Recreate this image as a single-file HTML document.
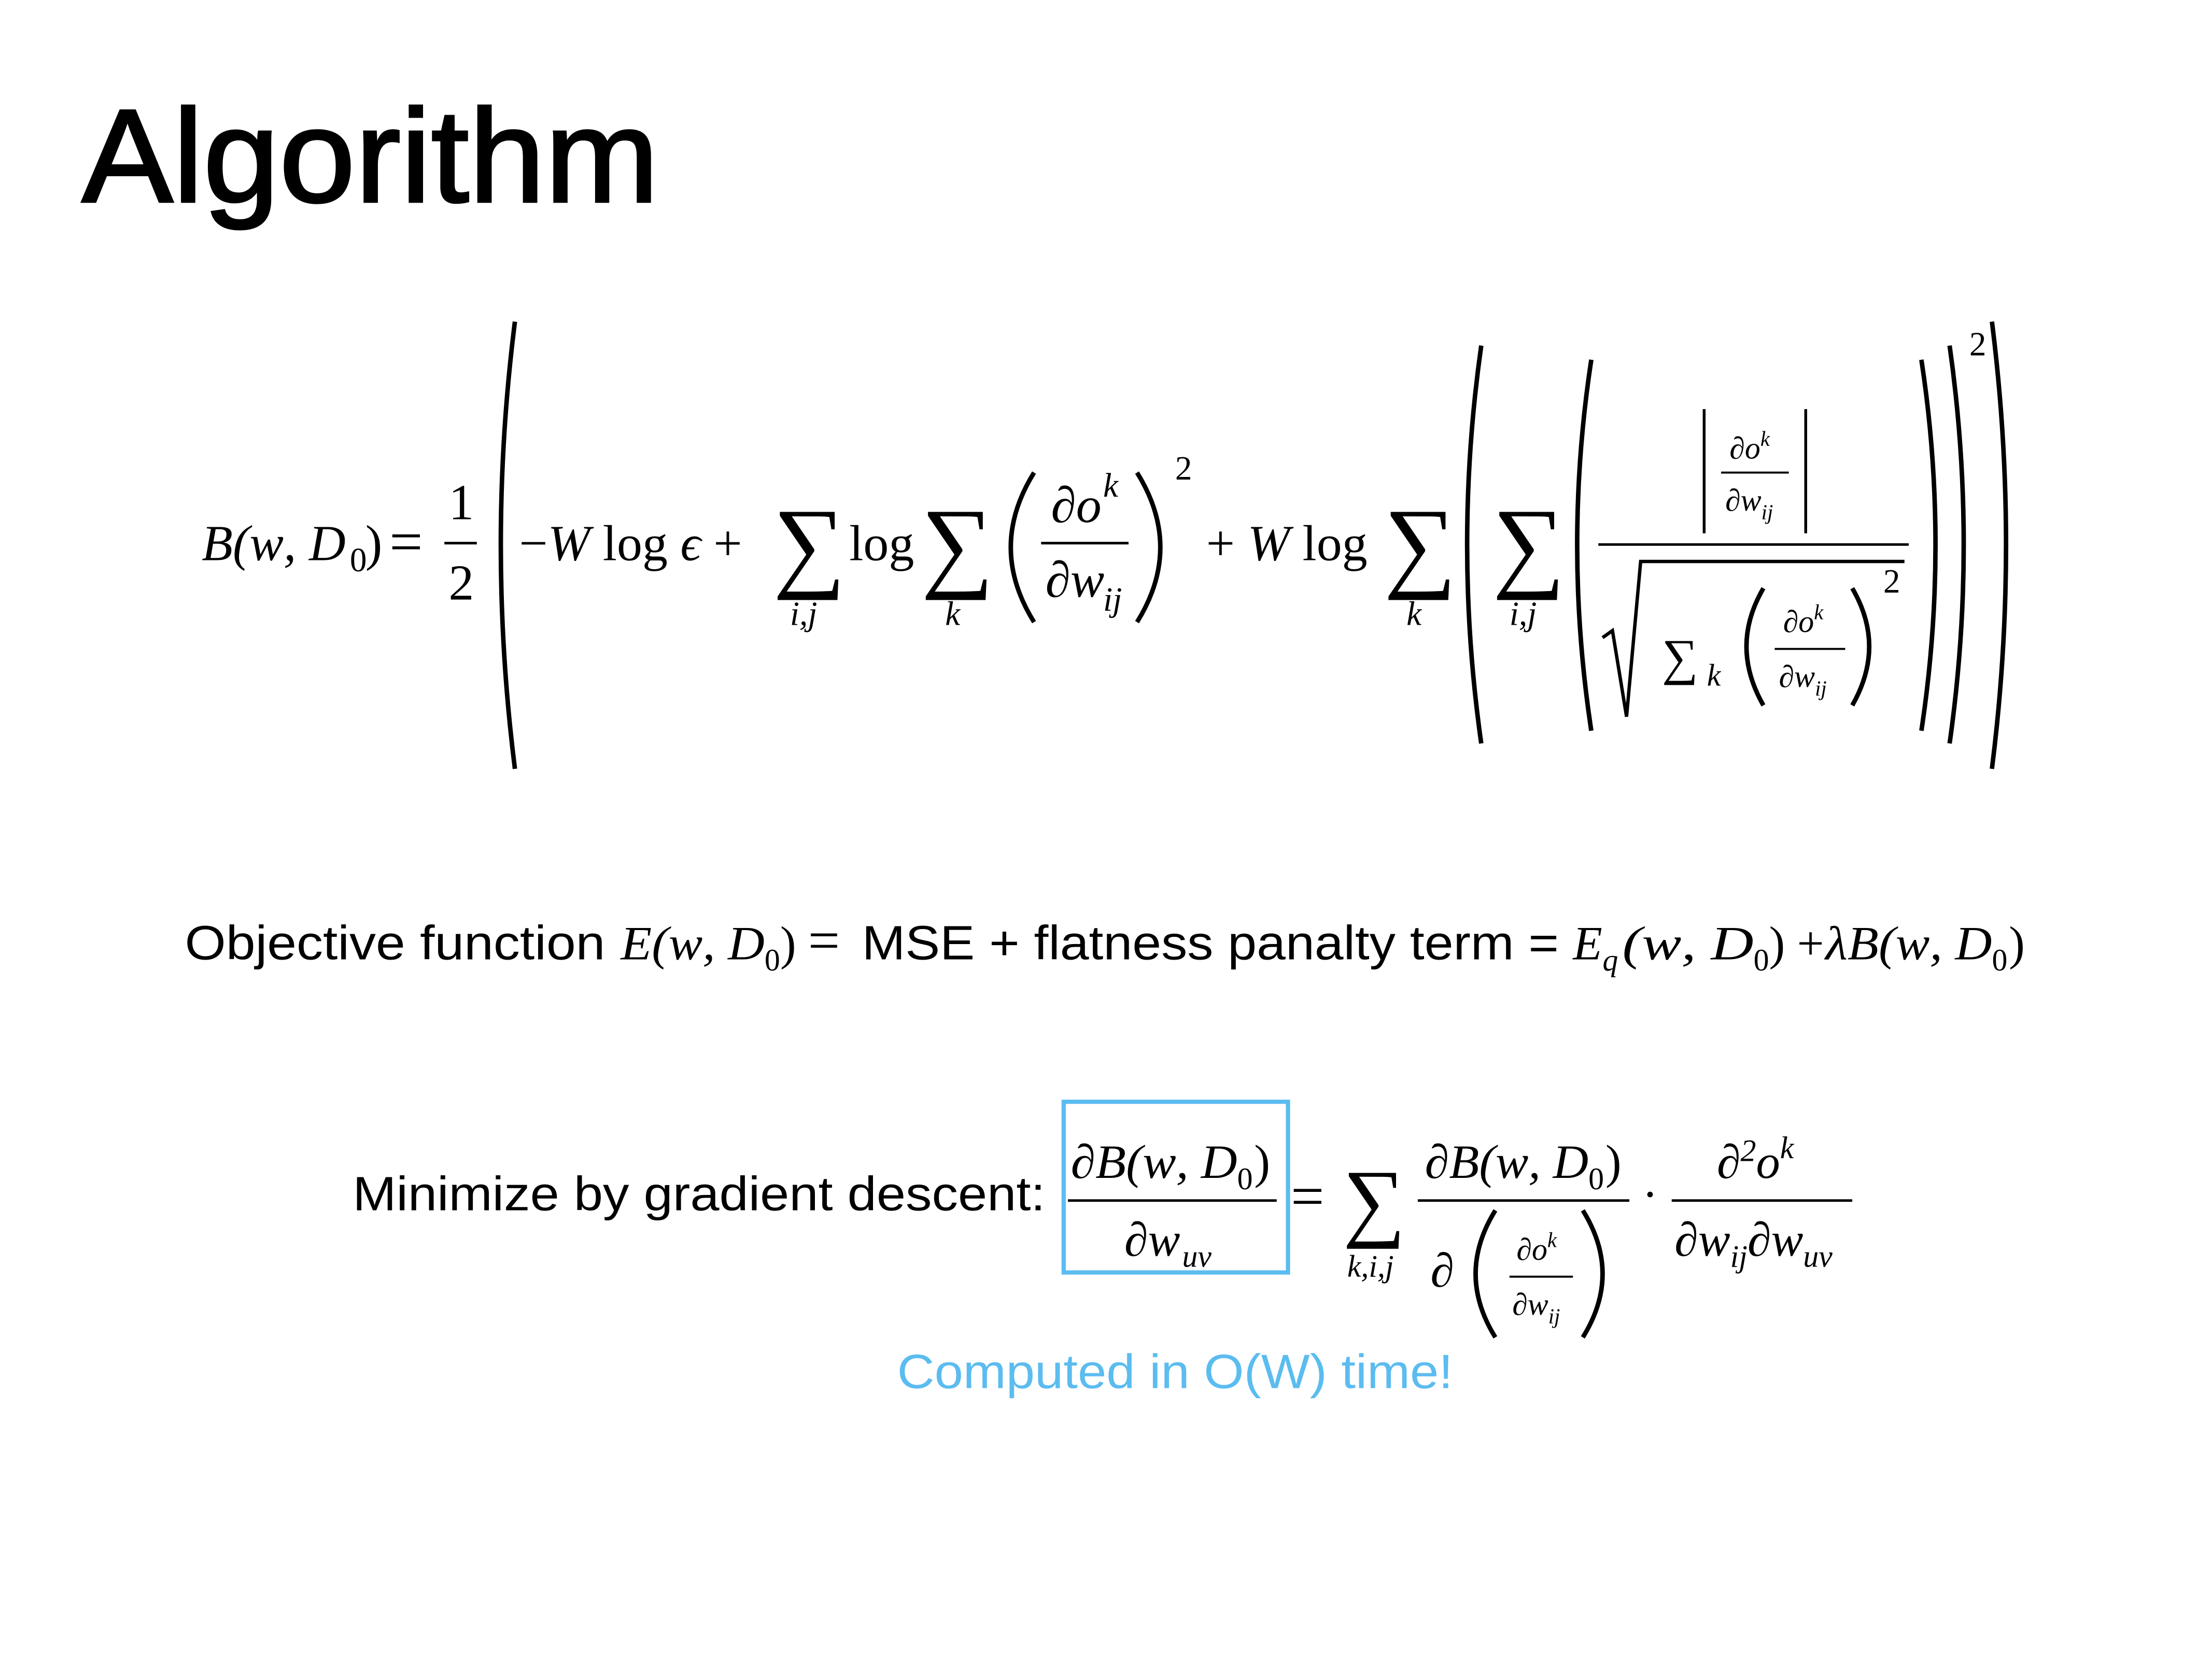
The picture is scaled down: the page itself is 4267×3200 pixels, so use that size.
<!DOCTYPE html>
<html><head><meta charset="utf-8"><style>
html,body{margin:0;padding:0;background:#fff;}
svg{display:block;}
.m{font-family:"Liberation Serif",serif;font-style:italic;}
.r{font-family:"Liberation Serif",serif;}
.s{font-family:"Liberation Sans",sans-serif;}
.p{fill:none;stroke:#000;stroke-width:3.2;}
</style></head><body>
<svg width="4267" height="3200" viewBox="0 0 1568 1176" preserveAspectRatio="none">
<rect width="1568" height="1176" fill="#fff"/>
<text class="s" x="58" y="143" font-size="94" fill="#000" stroke="#000" stroke-width="1.6" textLength="409" lengthAdjust="spacingAndGlyphs">Algorithm</text>

<g font-size="36">
<text class="m" x="143" y="397">B<tspan class="r">(</tspan>w<tspan class="r">, </tspan>D</text>
<text class="r" x="248" y="405" font-size="24">0</text>
<text class="r" x="259" y="397">)</text>
<text class="r" x="276" y="398" font-size="42">=</text>
<text class="r" x="318" y="368">1</text><line x1="315" y1="385" x2="338" y2="385" stroke="#000" stroke-width="1.8"/><text class="r" x="318" y="425">2</text>
<path class="p" d="M365 228 Q345 386 365 545"/>
<text class="r" x="368" y="397">−<tspan class="m">W</tspan> log <tspan class="m">ϵ</tspan> +</text>
<text class="r" x="548" y="410" font-size="72">∑</text><text class="m" x="560" y="443" font-size="24">i,j</text>
<text class="r" x="602" y="397">log</text>
<text class="r" x="653" y="410" font-size="72">∑</text><text class="m" x="670" y="443" font-size="24">k</text>
<path class="p" d="M733 335 Q700 388 733 441"/>
<text class="m" x="745" y="370">∂o</text><text class="m" x="782" y="352" font-size="24">k</text>
<line x1="738" y1="385" x2="800" y2="385" stroke="#000" stroke-width="1.8"/>
<text class="m" x="741" y="423">∂w</text><text class="m" x="782" y="433" font-size="24">ij</text>
<path class="p" d="M806 335 Q839 388 806 441"/>
<text class="r" x="833" y="340" font-size="24">2</text>
<text class="r" x="855" y="397">+ <tspan class="m">W</tspan> log</text>
<text class="r" x="981" y="410" font-size="72">∑</text><text class="m" x="997" y="443" font-size="24">k</text>
<path class="p" d="M1050 245 Q1030 386 1050 527"/>
<text class="r" x="1058" y="410" font-size="72">∑</text><text class="m" x="1070" y="443" font-size="24">i,j</text>
<path class="p" d="M1128 255 Q1108 386 1128 518"/>
<line x1="1208" y1="290" x2="1208" y2="378" stroke="#000" stroke-width="2"/>
<line x1="1280" y1="290" x2="1280" y2="378" stroke="#000" stroke-width="2"/>
<text class="m" x="1226" y="325" font-size="22">∂o<tspan font-size="15" dy="-9">k</tspan></text>
<line x1="1220" y1="335" x2="1268" y2="335" stroke="#000" stroke-width="1.4"/>
<text class="m" x="1223" y="362" font-size="22">∂w<tspan font-size="15" dy="6">ij</tspan></text>
<line x1="1133" y1="386" x2="1353" y2="386" stroke="#000" stroke-width="1.8"/>
<path d="M1136 452 L1143 447 L1153 508 L1163 398 L1350 398" fill="none" stroke="#000" stroke-width="2.4"/>
<text class="r" x="1178" y="478">∑</text><text class="m" x="1210" y="486" font-size="22">k</text>
<path class="p" d="M1250 417 Q1226 458 1250 500"/>
<text class="m" x="1264" y="448" font-size="22">∂o<tspan font-size="15" dy="-9">k</tspan></text>
<line x1="1258" y1="460" x2="1308" y2="460" stroke="#000" stroke-width="1.4"/>
<text class="m" x="1261" y="487" font-size="22">∂w<tspan font-size="15" dy="6">ij</tspan></text>
<path class="p" d="M1313 417 Q1337 458 1313 500"/>
<text class="r" x="1335" y="420" font-size="24">2</text>
<path class="p" d="M1362 255 Q1382 386 1362 518"/>
<path class="p" d="M1382 245 Q1402 386 1382 527"/>
<path class="p" d="M1412 228 Q1432 386 1412 545"/>
<text class="r" x="1396" y="252" font-size="24">2</text>
</g>

<g font-size="34">
<text class="s" x="131" y="680" textLength="298" lengthAdjust="spacingAndGlyphs">Objective function</text>
<text class="m" x="440" y="680" textLength="102" lengthAdjust="spacingAndGlyphs">E<tspan class="r">(</tspan>w<tspan class="r">, </tspan>D</text>
<text class="r" x="542" y="688" font-size="22">0</text>
<text class="r" x="553" y="680">) <tspan font-size="40">=</tspan></text>
<text class="s" x="611" y="680" textLength="494" lengthAdjust="spacingAndGlyphs">MSE + flatness panalty term =</text>
<text class="m" x="1115" y="680">E</text><text class="m" x="1136" y="688" font-size="22">q</text>
<text class="m" x="1150" y="680" textLength="93" lengthAdjust="spacingAndGlyphs"><tspan class="r">(</tspan>w<tspan class="r">, </tspan>D</text>
<text class="r" x="1243" y="688" font-size="22">0</text>
<text class="r" x="1254" y="680">) +</text>
<text class="m" x="1294" y="680" textLength="118" lengthAdjust="spacingAndGlyphs">λB<tspan class="r">(</tspan>w<tspan class="r">, </tspan>D</text>
<text class="r" x="1412" y="688" font-size="22">0</text>
<text class="r" x="1424" y="680">)</text>
</g>

<g font-size="34">
<text class="s" x="250" y="858" textLength="491" lengthAdjust="spacingAndGlyphs">Minimize by gradient descent:</text>
<rect x="754" y="781" width="159" height="121" fill="none" stroke="#5bbcf0" stroke-width="3"/>
<text class="m" x="759" y="835" textLength="118" lengthAdjust="spacingAndGlyphs">∂B<tspan class="r">(</tspan>w<tspan class="r">, </tspan>D</text>
<text class="r" x="877" y="843" font-size="22">0</text><text class="r" x="889" y="835">)</text>
<line x1="757" y1="851" x2="905" y2="851" stroke="#000" stroke-width="1.8"/>
<text class="m" x="797" y="890">∂w</text><text class="m" x="838" y="898" font-size="22">uv</text>
<text class="r" x="915" y="862" font-size="42">=</text>
<text class="r" x="952" y="872" font-size="62">∑</text><text class="m" x="955" y="905" font-size="22">k,i,j</text>
<text class="m" x="1010" y="835" textLength="116" lengthAdjust="spacingAndGlyphs">∂B<tspan class="r">(</tspan>w<tspan class="r">, </tspan>D</text>
<text class="r" x="1126" y="843" font-size="22">0</text><text class="r" x="1138" y="835">)</text>
<line x1="1005" y1="851" x2="1155" y2="851" stroke="#000" stroke-width="1.8"/>
<text class="m" x="1014" y="912">∂</text>
<path class="p" d="M1060 858 Q1032 903 1060 948"/>
<text class="m" x="1075" y="893" font-size="22">∂o<tspan font-size="15" dy="-9">k</tspan></text>
<line x1="1070" y1="905" x2="1115" y2="905" stroke="#000" stroke-width="1.4"/>
<text class="m" x="1072" y="932" font-size="22">∂w<tspan font-size="15" dy="6">ij</tspan></text>
<path class="p" d="M1122 858 Q1150 903 1122 948"/>
<text class="r" x="1164" y="858">·</text>
<text class="m" x="1217" y="835">∂<tspan class="r" font-size="22" dy="-12">2</tspan><tspan dy="12">o</tspan><tspan font-size="22" dy="-14">k</tspan></text>
<line x1="1185" y1="851" x2="1313" y2="851" stroke="#000" stroke-width="1.8"/>
<text class="m" x="1187" y="890">∂w<tspan font-size="22" dy="8">ij</tspan><tspan dy="-8">∂w</tspan><tspan font-size="22" dy="8">uv</tspan></text>
</g>
<text class="s" x="636" y="984" font-size="34" fill="#5bbcf0" textLength="394" lengthAdjust="spacingAndGlyphs">Computed in O(W) time!</text>
</svg>
</body></html>
